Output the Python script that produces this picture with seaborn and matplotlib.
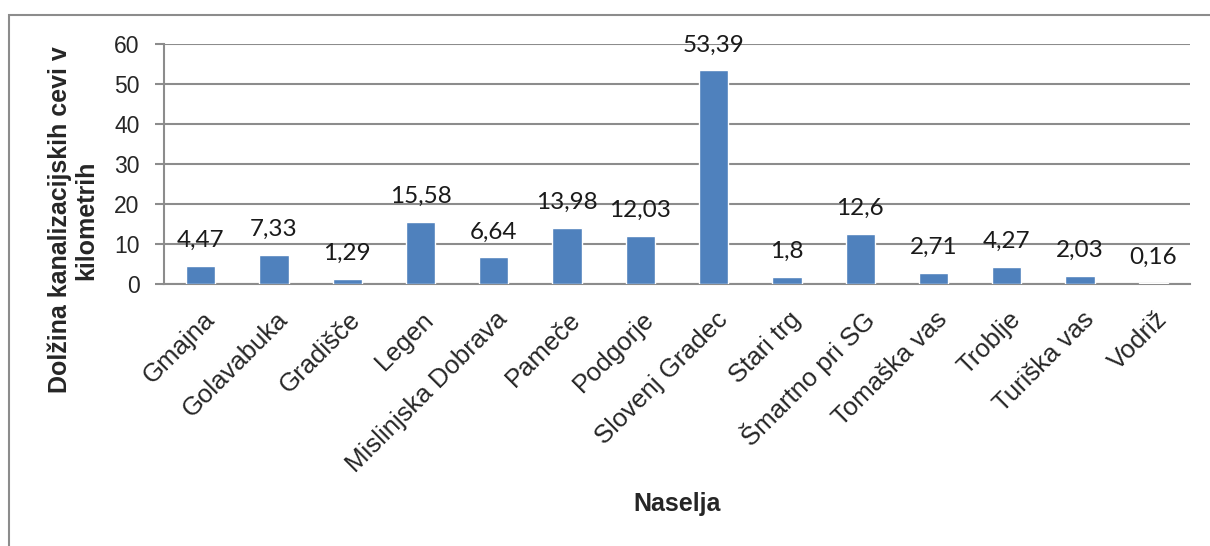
import matplotlib
matplotlib.use("Agg")
import matplotlib.pyplot as plt
from matplotlib.patches import Rectangle
from matplotlib.transforms import ScaledTranslation
import seaborn as sns
import pandas as pd

naselja = ["Gmajna", "Golavabuka", "Gradišče", "Legen", "Mislinjska Dobrava",
           "Pameče", "Podgorje", "Slovenj Gradec", "Stari trg", "Šmartno pri SG",
           "Tomaška vas", "Troblje", "Turiška vas", "Vodriž"]
dolzina_km = [4.47, 7.33, 1.29, 15.58, 6.64, 13.98, 12.03, 53.39, 1.8, 12.6,
              2.71, 4.27, 2.03, 0.16]
y_ticks = [0, 10, 20, 30, 40, 50, 60]

df = pd.DataFrame({"naselje": naselja, "km": dolzina_km})

sns.set_style("white")
plt.rcParams["font.family"] = ["Liberation Sans", "DejaVu Sans"]

W, H = 1210, 546
fig = plt.figure(figsize=(W / 100, H / 100), dpi=100)
ax = fig.add_axes([164 / W, 1 - 284 / H, (1190 - 164) / W, (284 - 44) / H])

sns.barplot(data=df, x="naselje", y="km", color="#4F81BD", saturation=1,
            width=0.4, ax=ax, zorder=3)

ax.set_ylim(0, 60)
ax.set_xlim(-0.5, len(naselja) - 0.5)
ax.set_yticks(y_ticks)
ax.set_yticklabels([str(t) for t in y_ticks], fontsize=16.5)
ax.yaxis.grid(True, color="#8c8c8c", linewidth=1.5, zorder=0)
ax.set_axisbelow(True)
ax.tick_params(axis="y", length=6.5, width=1.5, color="#8c8c8c", pad=11, left=True)
ax.tick_params(axis="x", length=0, pad=23)

for side in ["top", "right"]:
    ax.spines[side].set_visible(False)
for side in ["left", "bottom"]:
    ax.spines[side].set_color("#8c8c8c")
    ax.spines[side].set_linewidth(1.5)

ax.set_xticks(range(len(naselja)))
ax.set_xticklabels(naselja, rotation=45, ha="right", va="center",
                   rotation_mode="anchor", fontsize=18.5)
shift = ScaledTranslation(10 / 100, 0, fig.dpi_scale_trans)
for lab in ax.get_xticklabels():
    lab.set_transform(lab.get_transform() + shift)
ax.set_xlabel("")
ax.set_ylabel("")

# value labels above each bar, decimal comma
for i, v in enumerate(dolzina_km):
    ax.annotate(f"{v:g}".replace(".", ","), (i, v), xytext=(0, 13.7),
                textcoords="offset points", ha="center", va="baseline",
                fontsize=17.5, family=["Lato", "DejaVu Sans"], color="#1a1a1a")

fig.text(677 / W, 1 - 504 / H, "Naselja", ha="center", va="center",
         fontsize=18, fontweight="bold")
fig.text(73 / W, 1 - 220 / H, "Dolžina kanalizacijskih cevi v\nkilometrih",
         ha="center", va="center", rotation=90, multialignment="center",
         fontsize=18, fontweight="bold", linespacing=1.15)

# chart area border
fig.patches.append(Rectangle((9 / W, -0.1), 1.1, 1 - 15 / H + 0.1,
                             transform=fig.transFigure, fill=False,
                             edgecolor="#8c8c8c", linewidth=1.5))

fig.savefig("out.png", dpi=100)
